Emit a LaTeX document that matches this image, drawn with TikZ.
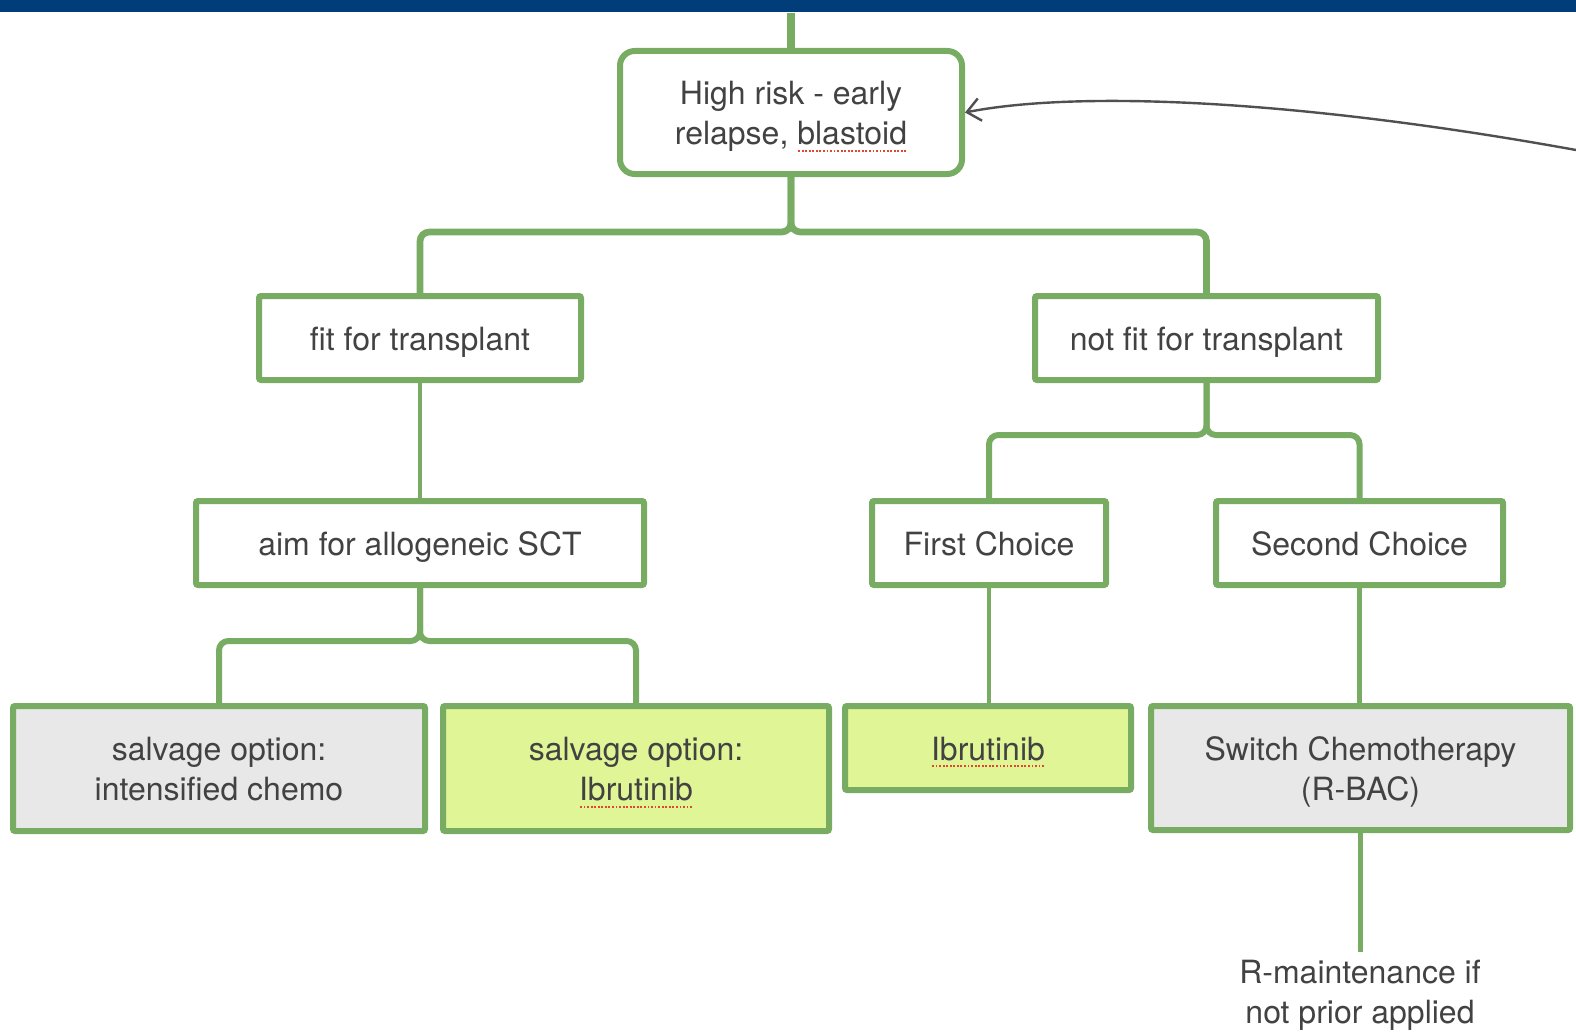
\documentclass[tikz,border=0pt]{standalone}
\usepackage{fontspec}
\setmainfont{TeX Gyre Heros}
\usetikzlibrary{arrows.meta}
\definecolor{navy}{RGB}{0,61,121}
\definecolor{grn}{RGB}{120,172,98}
\definecolor{ylw}{RGB}{224,245,150}
\definecolor{gry}{RGB}{232,232,232}
\definecolor{txt}{RGB}{66,66,66}
\definecolor{spellred}{RGB}{225,70,50}
\definecolor{arrgray}{RGB}{80,80,80}
\newcommand\spellmark[1]{\setbox0\hbox{#1}\rlap{\textcolor{spellred}{\raisebox{-5.5pt}{\hbox to \wd0{\xleaders\hbox to 2.6pt{\hss\rule{1.4pt}{1.4pt}\hss}\hfill}}}}\box0}
\tikzset{
  box/.style={draw=grn, line width=4.5pt, inner sep=0pt, align=center, text=txt,
    font=\fontsize{24}{30}\selectfont, rounded corners=1.5pt, fill=white},
  oneline/.style={text height=18pt, text depth=0pt},
  twoline/.style={text height=48pt, text depth=0pt},
  conn/.style={draw=grn, line width=3.5pt, rounded corners=7pt},
  brace/.style={conn, line width=5pt},
  lbrace/.style={conn, line width=4.5pt},
  single/.style={conn, line width=3.2pt},
}
\begin{document}
\begin{tikzpicture}[x=0.75pt, y=-0.75pt]
\useasboundingbox (0,0) rectangle (1576,1031);
\node[fill=navy, anchor=north west, inner sep=0pt, minimum width=1182pt, minimum height=9pt] (bar) at (0,0) {};

\node[box, text height=49pt, text depth=1pt, rounded corners=11pt, minimum width=256.5pt, minimum height=92.25pt] (top) at (791,112.5) {High risk - early\\relapse, \spellmark{blastoid}};
\node[box, oneline, minimum width=241.5pt, minimum height=63pt] (fit) at (420,338) {fit for transplant};
\node[box, oneline, minimum width=336pt, minimum height=63pt] (aim) at (420,543) {aim for allogeneic SCT};
\node[box, oneline, minimum width=257.25pt, minimum height=63pt] (notfit) at (1206.5,338) {not fit for transplant};
\node[box, oneline, minimum width=175.5pt, minimum height=63pt] (first) at (989,543) {First Choice};
\node[box, oneline, minimum width=215.25pt, minimum height=63pt] (second) at (1359.5,543) {Second Choice};
\node[box, oneline, fill=ylw, minimum width=214.5pt, minimum height=63pt] (ibr) at (988,748) {\spellmark{Ibrutinib}};
\node[box, twoline, fill=gry, minimum width=314.25pt, minimum height=93pt] (switch) at (1360.5,768) {Switch Chemotherapy\\(R-BAC)};
\node[box, twoline, fill=gry, minimum width=309pt, minimum height=93.75pt] (salvI) at (219,768.5) {salvage option:\\intensified chemo};
\node[box, twoline, fill=ylw, minimum width=289.5pt, minimum height=93.75pt] (salvB) at (636,768.5) {salvage option:\\\spellmark{Ibrutinib}};
\node[align=center, text=txt, font=\fontsize{24}{30}\selectfont, inner sep=6pt, anchor=north] (rm) at (1360,952) {R-maintenance if\\not prior applied};

\draw[brace, line width=6.5pt] (bar.south -| top.north) -- (top.north);
\draw[brace] (top.south) -- ++(0,55) -| (fit.north);
\draw[brace] (top.south) -- ++(0,55) -| (notfit.north);
\draw[conn] (fit.south) -- (aim.north);
\draw[lbrace] (aim.south) -- ++(0,53) -| (salvI.north);
\draw[lbrace] (aim.south) -- ++(0,53) -| (salvB.north);
\draw[lbrace] (notfit.south) -- ++(0,52) -| (first.north);
\draw[lbrace] (notfit.south) -- ++(0,52) -| (second.north);
\draw[single] (first.south) -- (first.south |- ibr.north);
\draw[single] (second.south) -- (second.south |- switch.north);
\draw[single] (switch.south) -- (switch.south |- rm.north);

\coordinate (arrstart) at (1576,150);
\draw[arrgray, line width=1.8pt, -{Straight Barb[length=10pt,width=17pt]}] (arrstart) .. controls (1300,100) and (1080,90) .. (top.east);
\end{tikzpicture}
\end{document}
